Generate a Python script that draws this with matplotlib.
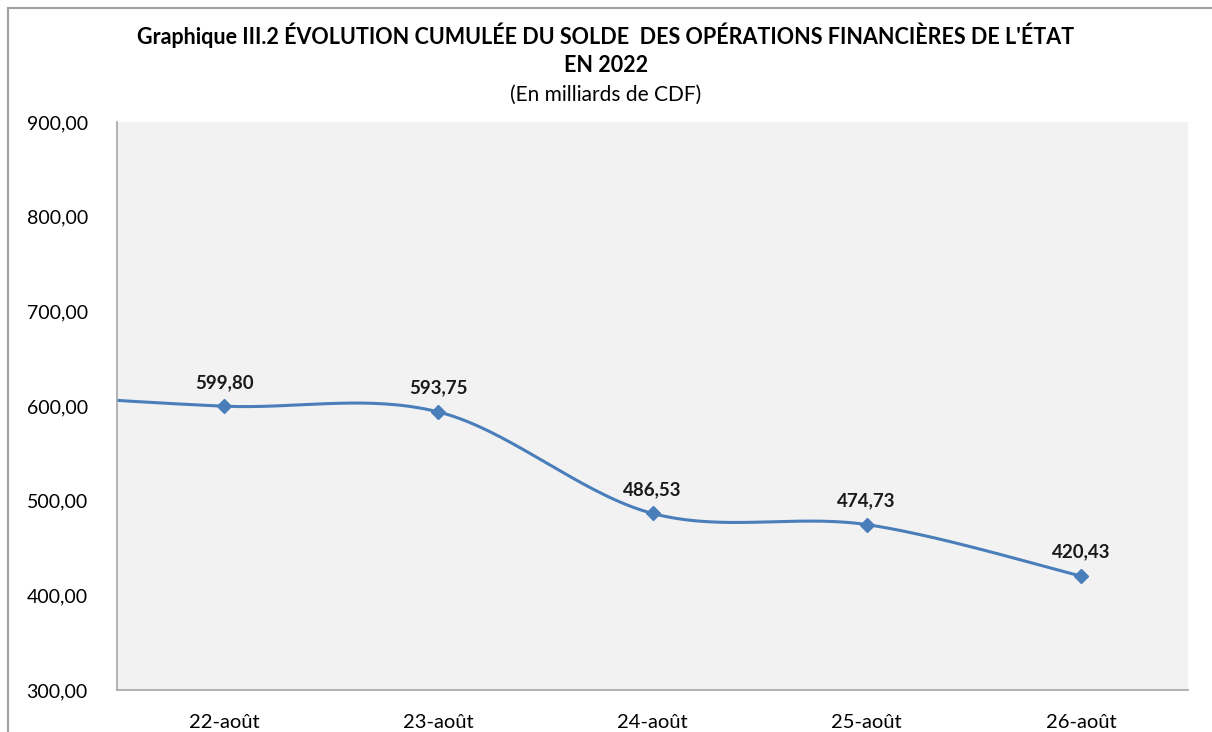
import numpy as np
import matplotlib.pyplot as plt
from matplotlib.lines import Line2D

# data
dates = ['22-août', '23-août', '24-août', '25-août', '26-août']
solde = [599.80, 593.75, 486.53, 474.73, 420.43]
# earlier point, off the left edge: only its curve segment shows
prev_solde = 613.0

yticks = [300, 400, 500, 600, 700, 800, 900]


def fmt_fr(v):
    return f"{v:,.2f}".replace(',', ' ').replace('.', ',')


# Excel-style smoothed line (cardinal Bezier through the points)
def smooth(xs, ys, n=60):
    xs = np.asarray(xs, float)
    ys = np.asarray(ys, float)
    px = np.concatenate([[xs[0]], xs, [xs[-1]]])
    py = np.concatenate([[ys[0]], ys, [ys[-1]]])
    outx, outy = [], []
    t = np.linspace(0, 1, n)
    for i in range(len(xs) - 1):
        p0 = np.array([px[i], py[i]])
        p1 = np.array([px[i + 1], py[i + 1]])
        p2 = np.array([px[i + 2], py[i + 2]])
        p3 = np.array([px[i + 3], py[i + 3]])
        c1 = p1 + (p2 - p0) / 6
        c2 = p2 - (p3 - p1) / 6
        b = ((1 - t) ** 3)[:, None] * p1 + (3 * (1 - t) ** 2 * t)[:, None] * c1 \
            + (3 * (1 - t) * t ** 2)[:, None] * c2 + (t ** 3)[:, None] * p2
        outx.extend(b[:, 0])
        outy.extend(b[:, 1])
    return np.array(outx), np.array(outy)


plt.rcParams['font.family'] = ['Lato', 'DejaVu Sans']

fig = plt.figure(figsize=(12.12, 7.32), dpi=100)
ax = fig.add_axes([117 / 1212, 1 - 690 / 732, (1188 - 117) / 1212, (690 - 122) / 732])
ax.set_facecolor('#f2f2f2')

blue = '#4a7ebb'
x = np.arange(len(dates))
sx, sy = smooth(np.concatenate([[-1], x]), [prev_solde] + solde)
ax.plot(sx, sy, color=blue, lw=2.2, solid_capstyle='round')
ax.plot(x, solde, ls='none', marker='D', ms=7, color=blue)

for xi, v in zip(x, solde):
    ax.annotate(fmt_fr(v), (xi, v), xytext=(0, 11), textcoords='offset points',
                ha='center', va='bottom', fontsize=13.5, fontweight='bold', color='#1a1a1a')

ax.set_xlim(-0.5, len(dates) - 0.5)
ax.set_ylim(300, 900)
ax.set_xticks(x)
ax.set_xticklabels(dates, fontsize=14.5)
ax.set_yticks(yticks)
ax.set_yticklabels([fmt_fr(v) for v in yticks], fontsize=14)
ax.tick_params(length=0, pad=17)
ax.tick_params(axis='y', pad=21)
for s in ['top', 'right']:
    ax.spines[s].set_visible(False)
for s in ['left', 'bottom']:
    ax.spines[s].set_color('#a6a6a6')
    ax.spines[s].set_linewidth(1.2)

fig.text(0.5, 1 - 35 / 732, "Graphique III.2 ÉVOLUTION CUMULÉE DU SOLDE  DES OPÉRATIONS FINANCIÈRES DE L'ÉTAT",
         ha='center', va='center', fontsize=15.5, fontweight='bold')
fig.text(0.5, 1 - 65 / 732, "EN 2022", ha='center', va='center', fontsize=15.5, fontweight='bold')
fig.text(0.5, 1 - 95 / 732, "(En milliards de CDF)", ha='center', va='center', fontsize=15)

# outer chart border (cropped at right and bottom)
fig.add_artist(Line2D([8 / 1212, 1], [1 - 8 / 732, 1 - 8 / 732], color='#a0a0a0', lw=1.5))
fig.add_artist(Line2D([8 / 1212, 8 / 1212], [0, 1 - 8 / 732], color='#a0a0a0', lw=1.5))

fig.savefig('out.png', dpi=100)
